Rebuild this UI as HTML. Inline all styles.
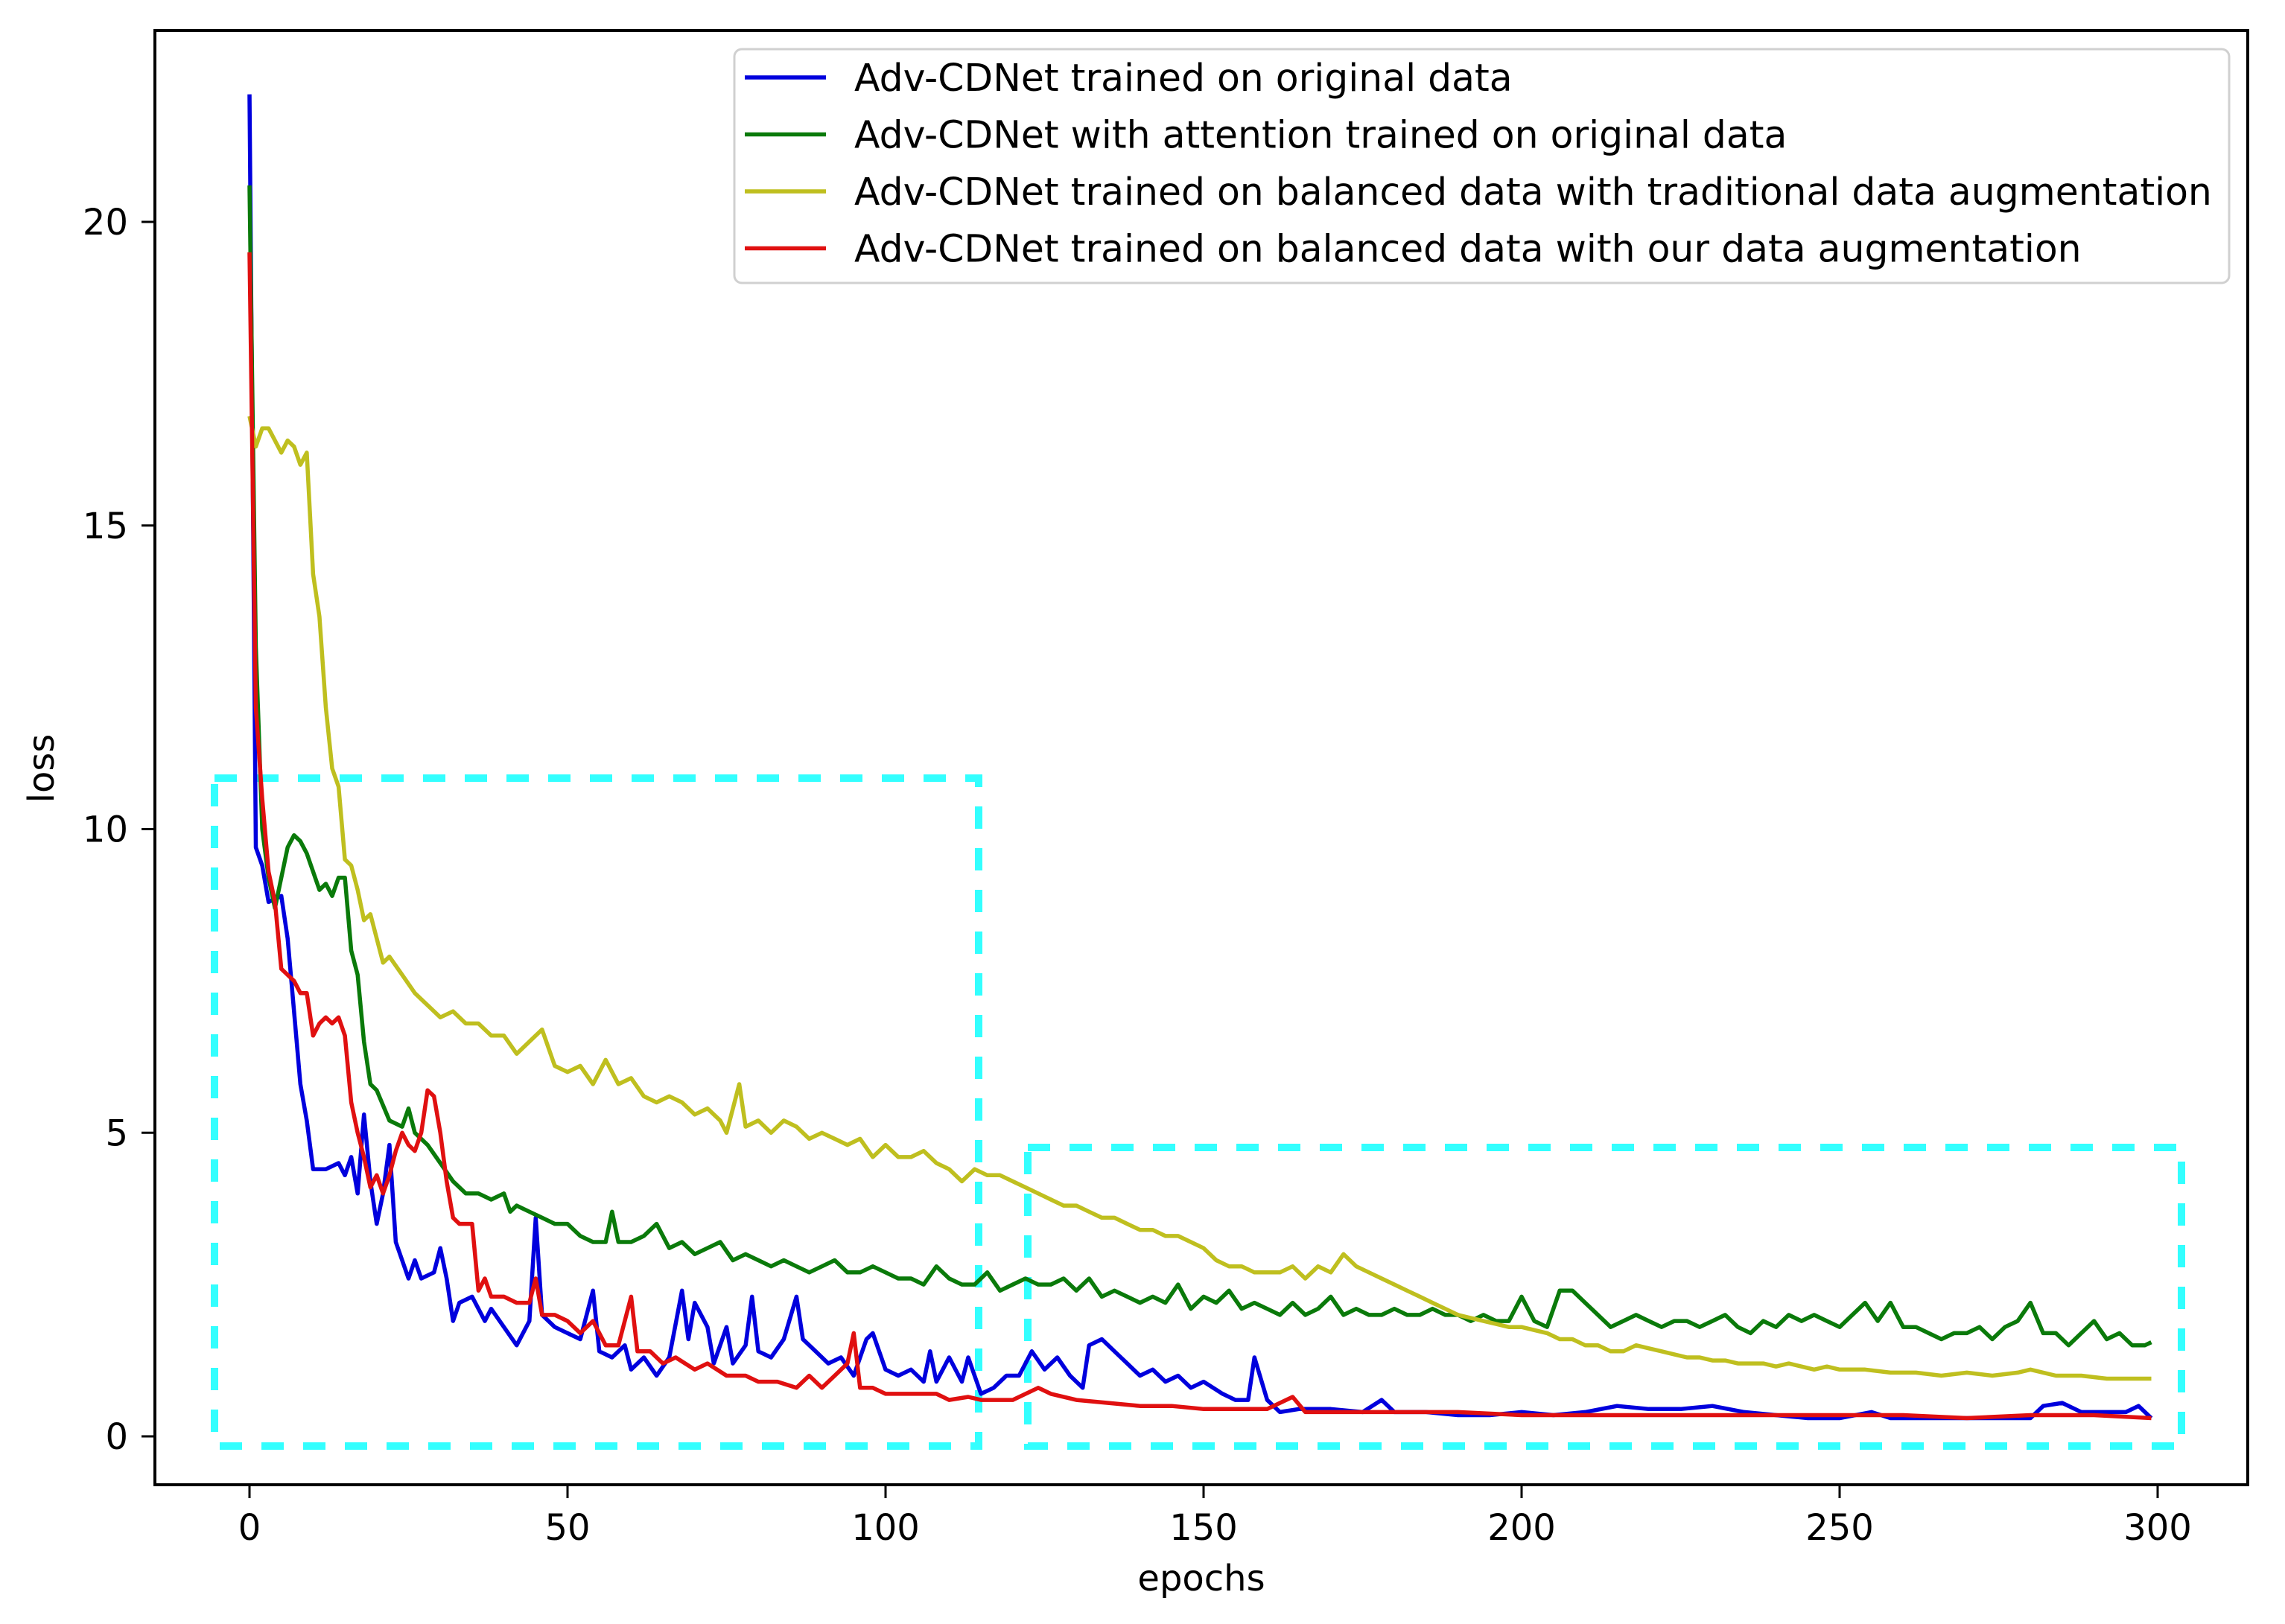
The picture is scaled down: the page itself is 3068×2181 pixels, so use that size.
<!DOCTYPE html>
<html><head><meta charset="utf-8"><style>
html,body{margin:0;padding:0;background:#fff;}
svg{display:block;font-family:"DejaVu Sans","Liberation Sans",sans-serif;}
</style></head><body>
<svg id="chart" width="3068" height="2181" viewBox="0 0 3068 2181" xmlns="http://www.w3.org/2000/svg">
<rect x="0" y="0" width="3068" height="2181" fill="#fff"/>
<g id="boxes"></g>
<g id="series"></g>
<rect x="208" y="41" width="2810" height="1953" fill="none" stroke="#000" stroke-width="4"/>
<g id="xticks"></g>
<g id="yticks"></g>
<text x="1613" y="2136" font-size="48" text-anchor="middle">epochs</text>
<text x="0" y="0" font-size="48" text-anchor="middle" transform="translate(72,1032) rotate(-90)">loss</text>
<g id="legend"></g>
</svg>
<script>
const xTicks=[0,50,100,150,200,250,300];
const yTicks=[0,5,10,15,20];
const seriesNames=["Adv-CDNet trained on original data","Adv-CDNet with attention trained on original data","Adv-CDNet trained on balanced data with traditional data augmentation","Adv-CDNet trained on balanced data with our data augmentation"];
const seriesColors=["#0000dd","#0a7a0a","#bfbf1f","#e01010"];
const blueX=[0,1,2,3,5,6,7,8,9,10,12,14,15,16,17,18,19,20,21,22,23,25,26,27,29,30,31,32,33,35,37,38,40,42,44,45,46,48,50,52,54,55,57,59,60,62,64,66,68,69,70,72,73,75,76,78,79,80,82,84,86,87,89,91,93,95,97,98,100,102,104,106,107,108,110,112,113,115,117,119,121,123,125,127,129,131,132,134,136,138,140,142,144,146,148,150,153,155,157,158,160,162,165,170,175,178,180,185,190,195,200,205,210,215,220,225,230,235,240,245,250,255,258,265,270,275,280,282,285,288,295,297,299];
const blueY=[22.1,9.7,9.4,8.8,8.9,8.2,7.0,5.8,5.2,4.4,4.4,4.5,4.3,4.6,4.0,5.3,4.2,3.5,4.0,4.8,3.2,2.6,2.9,2.6,2.7,3.1,2.6,1.9,2.2,2.3,1.9,2.1,1.8,1.5,1.9,3.6,2.0,1.8,1.7,1.6,2.4,1.4,1.3,1.5,1.1,1.3,1.0,1.3,2.4,1.6,2.2,1.8,1.2,1.8,1.2,1.5,2.3,1.4,1.3,1.6,2.3,1.6,1.4,1.2,1.3,1.0,1.6,1.7,1.1,1.0,1.1,0.9,1.4,0.9,1.3,0.9,1.3,0.7,0.8,1.0,1.0,1.4,1.1,1.3,1.0,0.8,1.5,1.6,1.4,1.2,1.0,1.1,0.9,1.0,0.8,0.9,0.7,0.6,0.6,1.3,0.6,0.4,0.45,0.45,0.4,0.6,0.4,0.4,0.35,0.35,0.4,0.35,0.4,0.5,0.45,0.45,0.5,0.4,0.35,0.3,0.3,0.4,0.3,0.3,0.3,0.3,0.3,0.5,0.55,0.4,0.4,0.5,0.3];
const greenX=[0,1,2,3,4,5,6,7,8,9,10,11,12,13,14,15,16,17,18,19,20,22,24,25,26,28,30,32,34,36,38,40,41,42,44,46,48,50,52,54,56,57,58,60,62,64,66,68,70,72,74,76,78,80,82,84,86,88,90,92,94,96,98,100,102,104,106,108,110,112,114,116,118,120,122,124,126,128,130,132,134,136,138,140,142,144,146,148,150,152,154,156,158,160,162,164,166,168,170,172,174,176,178,180,182,184,186,188,190,192,194,196,198,200,202,204,206,208,210,212,214,216,218,220,222,224,226,228,230,232,234,236,238,240,242,244,246,248,250,252,254,256,258,260,262,264,266,268,270,272,274,276,278,280,282,284,286,288,290,292,294,296,298,299];
const greenY=[20.6,13,10.0,9.2,8.7,9.2,9.7,9.9,9.8,9.6,9.3,9.0,9.1,8.9,9.2,9.2,8.0,7.6,6.5,5.8,5.7,5.2,5.1,5.4,5.0,4.8,4.5,4.2,4.0,4.0,3.9,4.0,3.7,3.8,3.7,3.6,3.5,3.5,3.3,3.2,3.2,3.7,3.2,3.2,3.3,3.5,3.1,3.2,3.0,3.1,3.2,2.9,3.0,2.9,2.8,2.9,2.8,2.7,2.8,2.9,2.7,2.7,2.8,2.7,2.6,2.6,2.5,2.8,2.6,2.5,2.5,2.7,2.4,2.5,2.6,2.5,2.5,2.6,2.4,2.6,2.3,2.4,2.3,2.2,2.3,2.2,2.5,2.1,2.3,2.2,2.4,2.1,2.2,2.1,2.0,2.2,2.0,2.1,2.3,2.0,2.1,2.0,2.0,2.1,2.0,2.0,2.1,2.0,2.0,1.9,2.0,1.9,1.9,2.3,1.9,1.8,2.4,2.4,2.2,2.0,1.8,1.9,2.0,1.9,1.8,1.9,1.9,1.8,1.9,2.0,1.8,1.7,1.9,1.8,2.0,1.9,2.0,1.9,1.8,2.0,2.2,1.9,2.2,1.8,1.8,1.7,1.6,1.7,1.7,1.8,1.6,1.8,1.9,2.2,1.7,1.7,1.5,1.7,1.9,1.6,1.7,1.5,1.5,1.55];
const yellowX=[0,1,2,3,4,5,6,7,8,9,10,11,12,13,14,15,16,17,18,19,20,21,22,24,26,28,30,32,34,36,38,40,42,44,46,48,50,52,54,56,58,60,62,64,66,68,70,72,74,75,77,78,80,82,84,86,88,90,92,94,96,98,100,102,104,106,108,110,112,114,116,118,120,122,124,126,128,130,132,134,136,138,140,142,144,146,148,150,152,154,156,158,160,162,164,166,168,170,172,174,176,178,180,182,184,186,188,190,192,194,196,198,200,202,204,206,208,210,212,214,216,218,220,222,224,226,228,230,232,234,236,238,240,242,244,246,248,250,254,258,262,266,270,274,278,280,284,288,292,296,299];
const yellowY=[16.8,16.3,16.6,16.6,16.4,16.2,16.4,16.3,16.0,16.2,14.2,13.5,12.0,11.0,10.7,9.5,9.4,9.0,8.5,8.6,8.2,7.8,7.9,7.6,7.3,7.1,6.9,7.0,6.8,6.8,6.6,6.6,6.3,6.5,6.7,6.1,6.0,6.1,5.8,6.2,5.8,5.9,5.6,5.5,5.6,5.5,5.3,5.4,5.2,5.0,5.8,5.1,5.2,5.0,5.2,5.1,4.9,5.0,4.9,4.8,4.9,4.6,4.8,4.6,4.6,4.7,4.5,4.4,4.2,4.4,4.3,4.3,4.2,4.1,4.0,3.9,3.8,3.8,3.7,3.6,3.6,3.5,3.4,3.4,3.3,3.3,3.2,3.1,2.9,2.8,2.8,2.7,2.7,2.7,2.8,2.6,2.8,2.7,3.0,2.8,2.7,2.6,2.5,2.4,2.3,2.2,2.1,2.0,1.95,1.9,1.85,1.8,1.8,1.75,1.7,1.6,1.6,1.5,1.5,1.4,1.4,1.5,1.45,1.4,1.35,1.3,1.3,1.25,1.25,1.2,1.2,1.2,1.15,1.2,1.15,1.1,1.15,1.1,1.1,1.05,1.05,1.0,1.05,1.0,1.05,1.1,1.0,1.0,0.95,0.95,0.95];
const redX=[0,1,2,3,4,5,6,7,8,9,10,11,12,13,14,15,16,17,18,19,20,21,22,23,24,25,26,27,28,29,30,31,32,33,35,36,37,38,40,42,44,45,46,48,50,52,54,56,58,60,61,63,65,67,70,72,75,78,80,83,86,88,90,92,94,95,96,98,100,103,105,108,110,113,115,118,120,124,126,130,135,140,145,150,155,160,164,166,170,180,190,200,210,220,230,240,250,260,270,280,290,299];
const redY=[19.5,12,10.5,9.3,8.8,7.7,7.6,7.5,7.3,7.3,6.6,6.8,6.9,6.8,6.9,6.6,5.5,5.0,4.6,4.1,4.3,4.0,4.3,4.7,5.0,4.8,4.7,5.0,5.7,5.6,5.0,4.2,3.6,3.5,3.5,2.4,2.6,2.3,2.3,2.2,2.2,2.6,2.0,2.0,1.9,1.7,1.9,1.5,1.5,2.3,1.4,1.4,1.2,1.3,1.1,1.2,1.0,1.0,0.9,0.9,0.8,1.0,0.8,1.0,1.2,1.7,0.8,0.8,0.7,0.7,0.7,0.7,0.6,0.65,0.6,0.6,0.6,0.8,0.7,0.6,0.55,0.5,0.5,0.45,0.45,0.45,0.65,0.4,0.4,0.4,0.4,0.35,0.35,0.35,0.35,0.35,0.35,0.35,0.3,0.35,0.35,0.3];

const NS="http://www.w3.org/2000/svg";
const X0=335,XS=(2897-335)/300,Y0=1929,YS=(1929-298)/20;
function sx(v){return X0+v*XS;}
function sy(v){return Y0-v*YS;}
function mk(tag,attrs,parent){const e=document.createElementNS(NS,tag);for(const k in attrs)e.setAttribute(k,attrs[k]);parent.appendChild(e);return e;}

const bg=document.getElementById('boxes');
const b1=mk('rect',{x:288,y:1045,width:1026,height:897,fill:'none',stroke:'#33ffff','stroke-width':10,'stroke-dasharray':'30 26'},bg);


const b2=mk('rect',{x:1380,y:1541,width:1549,height:401,fill:'none',stroke:'#33ffff','stroke-width':10,'stroke-dasharray':'30 26'},bg);



const sg=document.getElementById('series');
const allX=[blueX,greenX,yellowX,redX],allY=[blueY,greenY,yellowY,redY];
const snames=['series-original','series-attention','series-traditional-aug','series-our-aug'];
for(let s=0;s<4;s++){
  let d='';
  for(let i=0;i<allX[s].length;i++){d+=(i?'L':'M')+sx(allX[s][i]).toFixed(1)+' '+sy(allY[s][i]).toFixed(1);}
  const p=mk('path',{d:d,fill:'none',stroke:seriesColors[s],'stroke-width':5.5,'stroke-linejoin':'round'},sg);
  
  
}

const xg=document.getElementById('xticks');
for(const t of xTicks){
  const l=mk('line',{x1:sx(t),x2:sx(t),y1:1994,y2:2012,stroke:'#000','stroke-width':3},xg);
  
  
  const tx=mk('text',{x:sx(t),y:2068,'font-size':48,'text-anchor':'middle'},xg);
  tx.textContent=t;
  
  
}
const yg=document.getElementById('yticks');
for(const t of yTicks){
  const l=mk('line',{x1:190,x2:208,y1:sy(t),y2:sy(t),stroke:'#000','stroke-width':3},yg);
  
  
  const tx=mk('text',{x:172,y:sy(t)+17,'font-size':48,'text-anchor':'end'},yg);
  tx.textContent=t;
  
  
}
const lg=document.getElementById('legend');
const lb=mk('rect',{x:986,y:66,width:2007,height:314,rx:10,fill:'#fff','fill-opacity':0.85,stroke:'#d0d0d0','stroke-width':3},lg);


for(let i=0;i<4;i++){
  const y=104+i*76.5;
  const l=mk('line',{x1:1000,x2:1109,y1:y,y2:y,stroke:seriesColors[i],'stroke-width':5.5},lg);
  
  
  const tx=mk('text',{x:1147,y:y+18,'font-size':50.4},lg);
  tx.textContent=seriesNames[i];
  
  
}
</script>
</body></html>
